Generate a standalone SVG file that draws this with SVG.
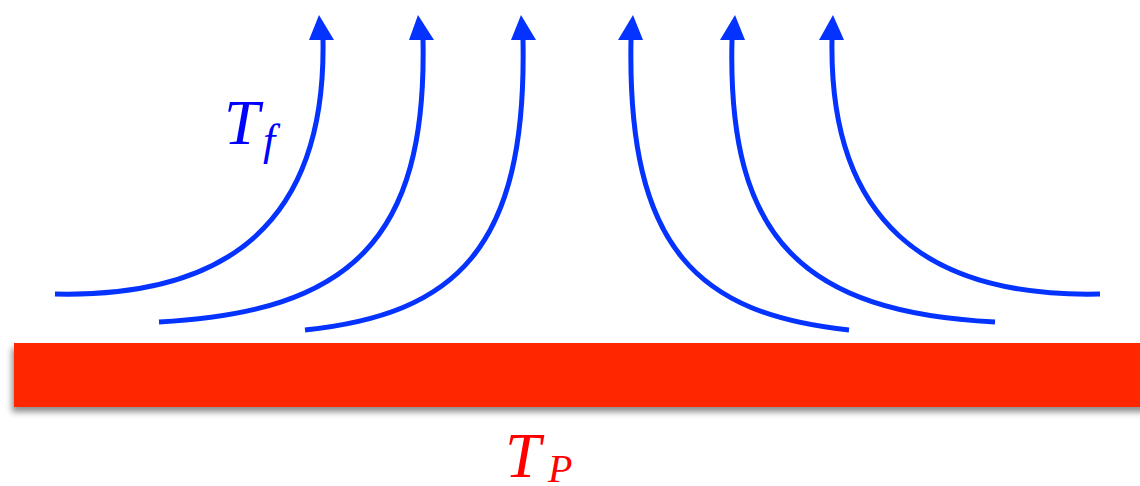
<svg xmlns="http://www.w3.org/2000/svg" width="1140" height="486" viewBox="0 0 1140 486">
<style>
.flow{fill:none;stroke:#0433FF;stroke-width:5}
.head{fill:#0433FF}
.lbl{font-family:"Liberation Serif",serif;font-style:italic}
</style>
<defs>
<filter id="sh" x="-5%" y="-30%" width="110%" height="170%">
<feDropShadow dx="-2" dy="5" stdDeviation="3" flood-color="#000" flood-opacity="0.45"/>
</filter>
</defs>
<g id="plate">
<rect x="14" y="343" width="1140" height="64" fill="#FF2600" filter="url(#sh)"/>
</g>
<g id="connectors">
<path class="flow" d="M55 294 C230 298 326 220 323 40"/>
<polygon class="head" points="319,15 309,40 334,40"/>
<path class="flow" d="M159 322 C350 312 427 240 423 40"/>
<polygon class="head" points="418,15 409,40 434,40"/>
<path class="flow" d="M305 330 C455 314 527 250 523 40"/>
<polygon class="head" points="521,15 511,40 536,40"/>
<path class="flow" d="M849 330 C699 314 627 250 631 40"/>
<polygon class="head" points="633,15 618,40 643,40"/>
<path class="flow" d="M995 322 C804 312 727 240 732 40"/>
<polygon class="head" points="735,15 720,40 745,40"/>
<path class="flow" d="M1100 294 C925 298 829 220 832 40"/>
<polygon class="head" points="833,15 819,40 844,40"/>
</g>
<g id="label-Tf" fill="#0000FF">
<text class="lbl" x="224" y="144" font-size="64">T</text>
<text class="lbl" x="263" y="155" font-size="44">f</text>
</g>
<g id="label-TP" fill="#FF0000">
<text class="lbl" x="505" y="477" font-size="64">T</text>
<text class="lbl" x="548" y="482" font-size="40">P</text>
</g>
</svg>
